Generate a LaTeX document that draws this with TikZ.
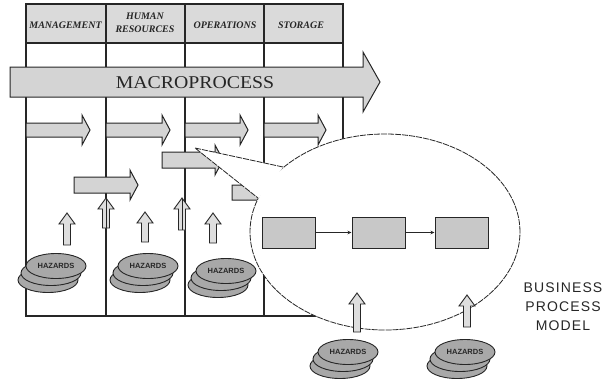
\documentclass[tikz,border=0pt]{standalone}
\usepackage{fontspec}
\setmainfont{Liberation Serif}
\newfontfamily\sansfont{Liberation Sans}
\newfontfamily\bpmfont[LetterSpace=8]{Liberation Sans}
\usetikzlibrary{shapes.geometric,arrows.meta}
\definecolor{ink}{HTML}{262626}
\definecolor{hdrfill}{HTML}{DADADA}
\definecolor{arrfill}{HTML}{D4D4D4}
\definecolor{upfill}{HTML}{DEDEDE}
\definecolor{boxfill}{HTML}{C8C8C8}
\definecolor{hazfill}{HTML}{A8A8A8}
\tikzset{
  tbl/.style={draw=ink, line width=1.1pt},
  procar/.style={draw=ink, fill=arrfill, line width=1pt, line join=miter},
  uparr/.style={draw=ink, fill=upfill, line width=0.9pt, line join=miter},
  hdr/.style={font=\fontsize{10}{13}\selectfont\bfseries\itshape, text=ink, inner sep=0pt, align=center},
  hazell/.style={ellipse, draw=ink, fill=hazfill, line width=0.9pt, minimum width=60pt, minimum height=25pt, inner sep=0pt, font=\sansfont\bfseries\fontsize{7.5}{8}\selectfont, text=ink},
  callout/.style={draw=ink, fill=white, line width=0.8pt, dash pattern=on 6pt off 1pt},
  procbox/.style={draw=ink, fill=boxfill, line width=1pt, minimum width=53pt, minimum height=31pt, inner sep=0pt},
  flow/.style={draw=ink, line width=0.8pt, -{Stealth[length=4pt,width=3.5pt]}},
}
\newcommand{\ProcArr}[6]{% x1, x2, yc, body half, head half, head length
  \draw[procar] (#1,#3-#4) -- (#2-#6,#3-#4) -- (#2-#6,#3-#5) -- (#2,#3) -- (#2-#6,#3+#5) -- (#2-#6,#3+#4) -- (#1,#3+#4) -- cycle;}
\newcommand{\UpArr}[3]{% x, top, bottom
  \draw[uparr] (#1-3.5,#3) -- (#1-3.5,#2+11) -- (#1-8,#2+11) -- (#1,#2) -- (#1+8,#2+11) -- (#1+3.5,#2+11) -- (#1+3.5,#3) -- cycle;}
\newcommand{\HazStack}[3]{% name, cx, cy
  \node[hazell] (#1c) at (#2-8,#3+14) {};
  \node[hazell] (#1b) at (#2-5,#3+7) {};
  \node[hazell] (#1) at (#2,#3) {HAZARDS};}
\begin{document}
\begin{tikzpicture}[x=1pt,y=-1pt]
\useasboundingbox (0,0) rectangle (603,386);
% table
\fill[hdrfill] (26,4) rectangle (343,43);
\draw[tbl] (26,4) rectangle (343,316);
\draw[tbl] (26,43) -- (343,43);
\draw[tbl] (106,4) -- (106,316);
\draw[tbl] (185,4) -- (185,316);
\draw[tbl] (264,4) -- (264,316);
\node[hdr] (hMan) at (65.5,25) {MANAGEMENT};
\node[hdr] (hHR) at (145,22.5) {HUMAN\\RESOURCES};
\node[hdr] (hOps) at (225,25) {OPERATIONS};
\node[hdr] (hSto) at (301,25) {STORAGE};
% macroprocess
\draw[procar] (10,67) -- (363,67) -- (363,52) -- (380,82) -- (363,112) -- (363,97) -- (10,97) -- cycle;
\node[font=\fontsize{18}{20}\selectfont, text=ink, inner sep=0pt] (macro) at (195,82.5) {\scalebox{1.1}[1]{MACROPROCESS}};
% process arrows
\ProcArr{26}{90}{130}{7}{15}{8}
\ProcArr{106}{170}{130}{7}{15}{8}
\ProcArr{185}{248}{130}{7}{15}{8}
\ProcArr{264}{326}{130}{7}{15}{8}
\ProcArr{162}{223}{160}{8}{15}{8}
\ProcArr{74}{138}{185}{8}{15}{8}
\ProcArr{232}{296}{192.5}{7.5}{15}{8}
% hazard arrows in table
\UpArr{67}{213}{245}
\UpArr{106}{198}{228}
\UpArr{145}{212}{242}
\UpArr{182}{198}{230}
\UpArr{213}{213}{243}
\draw[ink, line width=0.8pt] (106,199) -- (106,228);
\draw[ink, line width=0.8pt] (182,199) -- (182,230);
% callout
\path[callout] (385,232) ellipse [x radius=135pt, y radius=98pt];
\fill[white] (195,148) -- (283.5,167) -- (258.5,198.5) -- cycle;
\draw[callout, fill=none] (283,167) -- (195,148) -- (258,198);
% hazard stacks in table
\HazStack{hz1}{56}{266}
\HazStack{hz2}{148}{266}
\HazStack{hz3}{226}{271}
% business process model
\node[procbox] (b1) at (288.5,232.5) {};
\node[procbox] (b2) at (378.5,232.5) {};
\node[procbox] (b3) at (461.5,232.5) {};
\draw[flow] (b1) -- (b2);
\draw[flow] (b2) -- (b3);
\UpArr{357}{293}{332}
\UpArr{467}{295}{327}
\HazStack{hz4}{348}{352}
\HazStack{hz5}{465}{352}
\node[font=\bpmfont\fontsize{14}{19}\selectfont, text=ink, align=center, inner sep=0pt] (bpm) at (563,307) {BUSINESS\\PROCESS\\MODEL};
\end{tikzpicture}
\end{document}
